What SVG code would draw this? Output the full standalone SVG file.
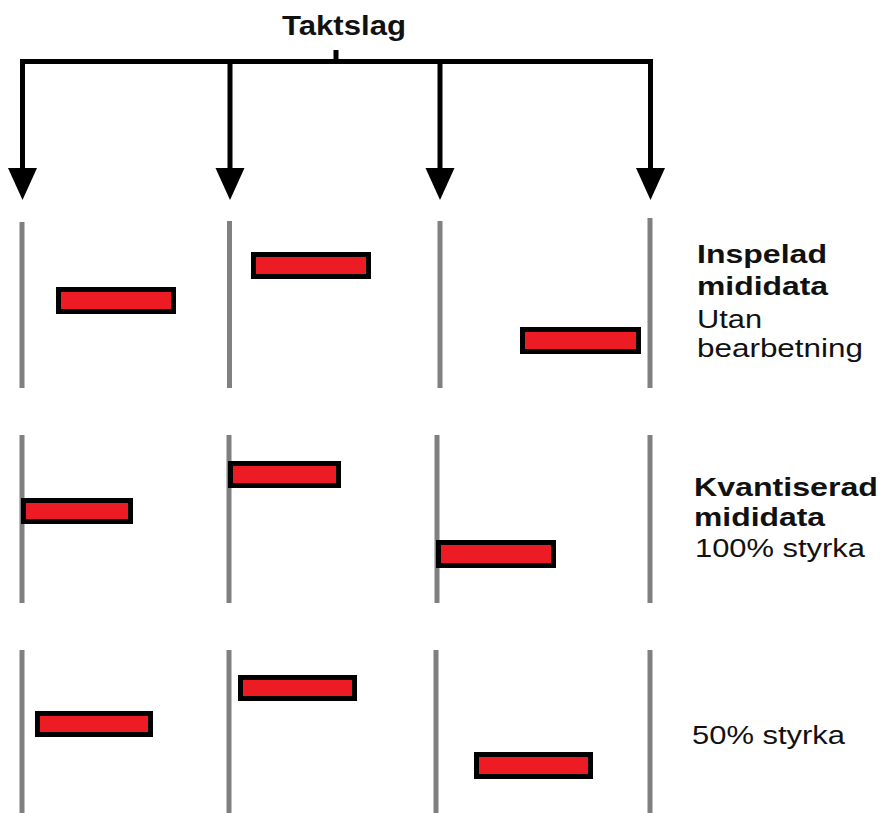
<svg xmlns="http://www.w3.org/2000/svg" xmlns:xlink="http://www.w3.org/1999/xlink" width="881" height="813" viewBox="0 0 881 813">
<style>
.bg{fill:#fff}
.conn{stroke:#000;stroke-width:5;fill:none}
.ah{fill:#000}
.bar{stroke:#808080;stroke-width:5}
.note{fill:#ED1C24;stroke:#000;stroke-width:5}
.t{font-family:"Liberation Sans",Arial,sans-serif;font-size:26px;fill:#111}
.b{font-weight:bold}
</style>
<defs>
<path id="ah" d="M-14.5,0 L14.5,0 L0,32 Z"/>
</defs>
<rect class="bg" x="0" y="0" width="881" height="813"/>
<g id="title">
<text class="t b" x="282" y="35" style="font-size:28px" textLength="124" lengthAdjust="spacingAndGlyphs">Taktslag</text>
</g>
<g id="connectors">
<path class="conn" d="M336,50 V61.5 M20,61.5 H653 M22.5,61.5 V170 M230,61.5 V170 M440,61.5 V170 M650.5,61.5 V170"/>
<use class="ah" xlink:href="#ah" href="#ah" x="22.5" y="168"/>
<use class="ah" xlink:href="#ah" href="#ah" x="230" y="168"/>
<use class="ah" xlink:href="#ah" href="#ah" x="440" y="168"/>
<use class="ah" xlink:href="#ah" href="#ah" x="650.5" y="168"/>
</g>
<g id="row1">
<line class="bar" x1="22" y1="222" x2="22" y2="388"/>
<line class="bar" x1="229.5" y1="221" x2="229.5" y2="388"/>
<line class="bar" x1="440" y1="221" x2="440" y2="388"/>
<line class="bar" x1="650" y1="218" x2="650" y2="388"/>
<rect class="note" x="58.5" y="289.5" width="115" height="22"/>
<rect class="note" x="253.5" y="254.5" width="115" height="22"/>
<rect class="note" x="522.5" y="329.5" width="116" height="22"/>
<text class="t b" x="697" y="263" textLength="130" lengthAdjust="spacingAndGlyphs">Inspelad</text>
<text class="t b" x="697" y="295" textLength="131" lengthAdjust="spacingAndGlyphs">mididata</text>
<text class="t" x="697" y="328" textLength="65" lengthAdjust="spacingAndGlyphs">Utan</text>
<text class="t" x="697" y="357" textLength="166" lengthAdjust="spacingAndGlyphs">bearbetning</text>
</g>
<g id="row2">
<line class="bar" x1="22" y1="435" x2="22" y2="603"/>
<line class="bar" x1="229" y1="435" x2="229" y2="603"/>
<line class="bar" x1="437" y1="435" x2="437" y2="603"/>
<line class="bar" x1="650" y1="435" x2="650" y2="603"/>
<rect class="note" x="23.5" y="500.5" width="107" height="21"/>
<rect class="note" x="230.5" y="463.5" width="108" height="22"/>
<rect class="note" x="438.5" y="542.5" width="115" height="23"/>
<text class="t b" x="694" y="496" textLength="184" lengthAdjust="spacingAndGlyphs">Kvantiserad</text>
<text class="t b" x="694" y="526" textLength="131" lengthAdjust="spacingAndGlyphs">mididata</text>
<text class="t" x="695" y="557" textLength="170" lengthAdjust="spacingAndGlyphs">100% styrka</text>
</g>
<g id="row3">
<line class="bar" x1="22" y1="650" x2="22" y2="813"/>
<line class="bar" x1="229" y1="650" x2="229" y2="813"/>
<line class="bar" x1="436" y1="650" x2="436" y2="813"/>
<line class="bar" x1="650" y1="650" x2="650" y2="813"/>
<rect class="note" x="37.5" y="713.5" width="113" height="21"/>
<rect class="note" x="240.5" y="677.5" width="114" height="21"/>
<rect class="note" x="476.5" y="754.5" width="114" height="22"/>
<text class="t" x="692" y="744" textLength="153" lengthAdjust="spacingAndGlyphs">50% styrka</text>
</g>
</svg>
